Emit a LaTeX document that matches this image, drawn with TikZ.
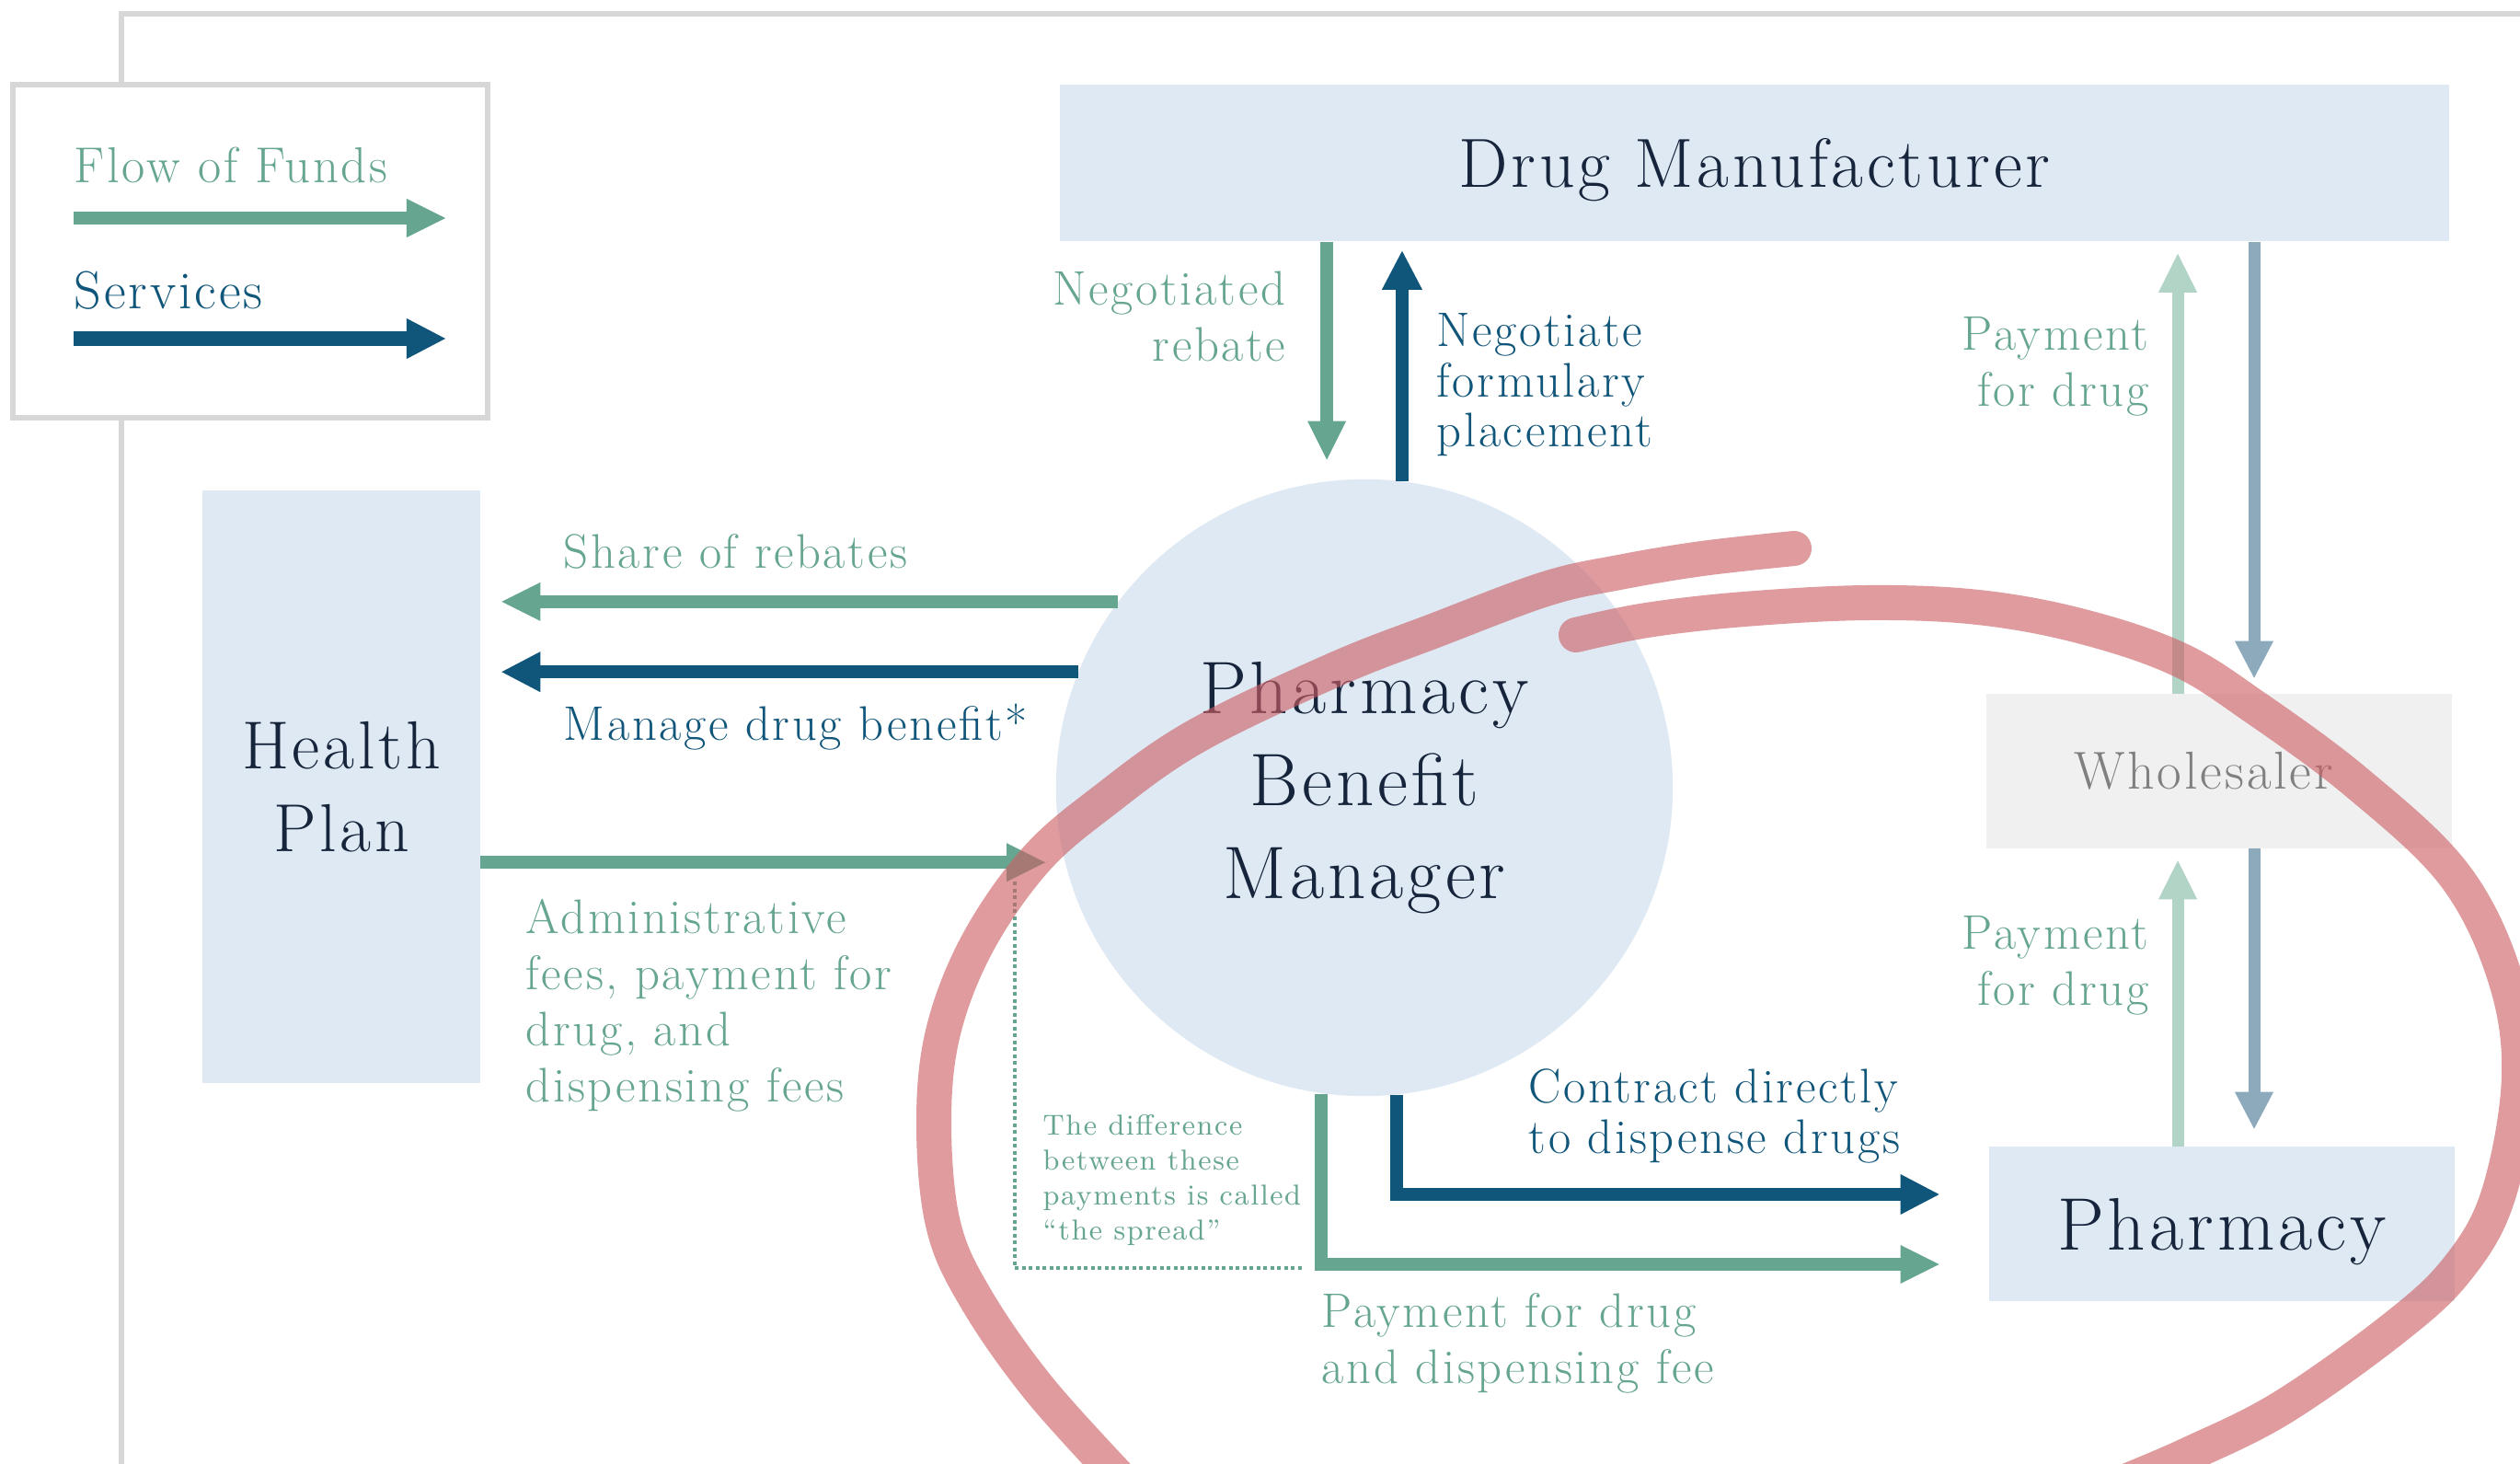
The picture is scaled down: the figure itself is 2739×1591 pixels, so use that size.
\documentclass[tikz,border=0pt]{standalone}
\usepackage{fontspec}
\setmainfont{Latin Modern Roman}[LetterSpace=5]
\usetikzlibrary{arrows.meta,positioning}

\definecolor{boxblue}{RGB}{223,233,243}
\definecolor{boxgray}{RGB}{240,240,240}
\definecolor{fundgreen}{RGB}{102,166,144}
\definecolor{svcblue}{RGB}{16,85,122}
\definecolor{fundlight}{RGB}{178,212,199}
\definecolor{svclight}{RGB}{141,170,189}
\definecolor{inkdark}{RGB}{22,36,60}
\definecolor{framegray}{RGB}{215,215,215}
\definecolor{markred}{RGB}{205,95,100}

\tikzset{
  fund/.style={draw=fundgreen, line width=1.4mm, -{Triangle[length=4.2mm,width=4.2mm,line width=0pt]}},
  svc/.style={draw=svcblue, line width=1.4mm, -{Triangle[length=4.2mm,width=4.4mm,line width=0pt]}},
  fundpale/.style={draw=fundlight, line width=1.3mm, -{Triangle[length=4.2mm,width=4.2mm,line width=0pt]}},
  svcpale/.style={draw=svclight, line width=1.3mm, -{Triangle[length=4mm,width=4.2mm,line width=0pt]}},
  entity/.style={fill=boxblue, inner sep=0pt, text=inkdark, align=center},
  fundlabel/.style={text=fundgreen, inner sep=0pt, font=\fontsize{15}{17.4}\selectfont},
  svclabel/.style={text=svcblue, inner sep=0pt, font=\fontsize{15}{15.5}\selectfont},
  marker/.style={draw=markred, opacity=0.62, line width=3.8mm, line cap=round, line join=round},
}

\begin{document}
\begin{tikzpicture}[x=0.01cm,y=-0.01cm]
\clip (0,0) rectangle (2739,1591);
\fill[white] (0,0) rectangle (2739,1591);
% frame and legend
\draw[framegray, line width=0.6mm] (132,1600) -- (132,15) -- (2750,15);
\node[draw=framegray, line width=0.6mm, fill=white, minimum width=5.15cm, minimum height=3.62cm] (legend) at (272,273) {};
\node[fundlabel, anchor=base west, font=\fontsize{15.6}{18}\selectfont] (lgfund) at (80,199) {Flow of Funds};
\node[svclabel, anchor=base west, font=\fontsize{16.5}{18}\selectfont] (lgsvc) at (80,335) {Services};
\coordinate (lgfund-a) at (80,237);
\coordinate (lgfund-b) at (484,237);
\coordinate (lgsvc-a) at (80,368);
\coordinate (lgsvc-b) at (484,368);
\draw[fund] (lgfund-a) -- (lgfund-b);
\draw[svc, line width=1.5mm] (lgsvc-a) -- (lgsvc-b);

% entities
\node[entity, minimum width=15.1cm, minimum height=1.7cm, text depth=0pt, font=\fontsize{21.5}{25}\selectfont] (dm) at (1907,177) {Drug Manufacturer};
\node[entity, minimum width=3.01cm, minimum height=6.44cm, font=\fontsize{21}{25.6}\selectfont] (hp) at (371,855) {Health\\Plan};
\node[entity, circle, minimum size=6.7cm, font=\fontsize{23}{28.5}\selectfont] (pbm) at (1483,856) {Pharmacy\\Benefit\\Manager};
\node[entity, fill=boxgray, text=gray, minimum width=5.05cm, minimum height=1.67cm, font=\fontsize{16.5}{19}\selectfont] (whole) at (2412,838) {Wholesaler\hspace*{3.4mm}};
\node[entity, minimum width=5.05cm, minimum height=1.67cm, text depth=0pt, font=\fontsize{23}{28.5}\selectfont] (pharm) at (2415,1330) {Pharmacy};

% flows around the PBM
\draw[fund, shorten >=2.3mm] (pbm.143.8) -- (hp.east |- pbm.143.8);
\draw[svc, shorten >=2.3mm] (pbm.158.5) -- (hp.east |- pbm.158.5);
\draw[fund, shorten >=2.1mm] (hp.east |- pbm.194.5) -- (pbm.194.5);
\draw[fund, shorten >=2.3mm] (dm.south -| pbm.97) -- (pbm.97);
\draw[svc, shorten >=1mm] (pbm.83.1) -- (dm.south -| pbm.83.1);
\draw[svc, shorten >=5.4mm] (pbm.276.5) |- (pharm.west |- 0,1298);
\draw[fund, shorten >=5.4mm] (pbm.262.6) |- (pharm.west |- 0,1374);

% wholesaler chain
\coordinate (upx) at (2367,0);
\coordinate (downx) at (2450,0);
\draw[fundpale, shorten >=1.3mm] (whole.north -| upx) -- (dm.south -| upx);
\draw[svcpale, shorten >=1.7mm] (dm.south -| downx) -- (whole.north -| downx);
\draw[fundpale, shorten >=1.3mm] (pharm.north -| upx) -- (whole.south -| upx);
\draw[svcpale, shorten >=1.9mm] (whole.south -| downx) -- (pharm.north -| downx);

% the spread
\coordinate (spread-top) at (1103,958);
\coordinate (spread-end) at (1417,1378);
\draw[fundgreen, line width=0.4mm, dash pattern=on 0.4mm off 0.35mm] (spread-top) |- (spread-end);

% labels
\node[fundlabel, anchor=base west] (rebshare) at (612,617) {Share of rebates};
\node[svclabel, anchor=base west] (manage) at (612,804) {Manage drug benefit*};
\node[fundlabel, anchor=north west, align=left] (adminfee) at (571,976) {Administrative\\fees, payment for\\drug, and\\dispensing fees};
\node[fundlabel, anchor=north east, align=right] (negreb) at (1398,294) {Negotiated\\rebate};
\node[svclabel, anchor=north west, align=left] (formul) at (1561,340) {Negotiate\\formulary\\placement};
\node[fundlabel, anchor=north east, align=right] (paywhole) at (2336,344) {Payment\\for drug};
\node[fundlabel, anchor=north east, align=right] (paypharm) at (2336,995) {Payment\\for drug};
\node[svclabel, anchor=north west, align=left] (contract) at (1661,1161) {Contract directly\\to dispense drugs};
\node[fundlabel, anchor=north west, align=left] (paydisp) at (1436,1405) {Payment for drug\\and dispensing fee};
\node[fundlabel, anchor=north west, align=left, font=\fontsize{8.9}{10.8}\selectfont] (spread) at (1133,1211) {The difference\\between these\\payments is called\\``the spread''};

% hand-drawn loop
\draw[marker] plot[smooth, tension=0.6] coordinates {(1950,596) (1850,607) (1760,622) (1680,640) (1560,685) (1450,728) (1300,800) (1200,870) (1125,935) (1062,1026) (1025,1122) (1015,1220) (1025,1330) (1060,1410) (1130,1510) (1230,1620)};
\draw[marker] plot[smooth, tension=0.6] coordinates {(1713,690) (1790,674) (1896,662) (2030,655) (2150,660) (2260,680) (2367,716) (2450,768) (2561,850) (2667,950) (2722,1060) (2738,1170) (2715,1300) (2670,1380) (2600,1445) (2480,1530) (2380,1580) (2310,1610)};
\end{tikzpicture}
\end{document}
